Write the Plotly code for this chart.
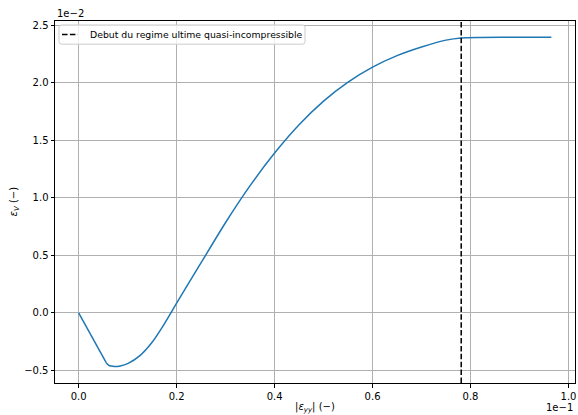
import plotly.graph_objects as go

# Data (actual values; axes display them as x1e-1 and x1e-2)
eps_yy = [0.0, 0.00565, 0.0061, 0.0066, 0.00735, 0.0085, 0.0100, 0.0125, 0.0150, 0.0175,
          0.0200, 0.0250, 0.0300, 0.0350, 0.0400, 0.0450, 0.0500, 0.0550, 0.0600, 0.0650,
          0.0700, 0.0750, 0.0781, 0.0820, 0.0900, 0.0965]
eps_v = [0.0, -0.00435, -0.00453, -0.00462, -0.00466, -0.00461, -0.00441, -0.00371, -0.00255,
         -0.00095, 0.00084, 0.00436, 0.00785, 0.01105, 0.01388, 0.01634, 0.01839, 0.02004,
         0.02134, 0.02234, 0.02309, 0.02369, 0.02388, 0.02392, 0.02393, 0.02393]
kink_index = 1  # end of the initial straight segment
x_regime = 0.0781
legend_label = "Debut du regime ultime quasi-incompressible"

x_tickvals = [0.0, 0.02, 0.04, 0.06, 0.08, 0.10]
x_ticktext = ["0.0", "0.2", "0.4", "0.6", "0.8", "1.0"]
y_tickvals = [-0.005, 0.0, 0.005, 0.010, 0.015, 0.020, 0.025]
y_ticktext = ["\u22120.5", "0.0", "0.5", "1.0", "1.5", "2.0", "2.5"]

x_range = [-0.00483, 0.10133]
y_range = [-0.00609, 0.02535]

C0 = "#1f77b4"
fig = go.Figure()
fig.add_trace(go.Scatter(x=eps_yy[:kink_index + 1], y=eps_v[:kink_index + 1], mode="lines",
                         line=dict(color=C0, width=1.5), showlegend=False))
fig.add_trace(go.Scatter(x=eps_yy[kink_index:], y=eps_v[kink_index:], mode="lines",
                         line=dict(color=C0, width=1.5, shape="spline", smoothing=0.7),
                         showlegend=False))
fig.add_trace(go.Scatter(x=[x_regime, x_regime], y=y_range, mode="lines",
                         line=dict(color="black", width=1.5, dash="5.5px,2.4px"),
                         name=legend_label, showlegend=False))

font = dict(family="DejaVu Sans", size=10, color="black")
axis_common = dict(showgrid=True, gridcolor="#b0b0b0", gridwidth=0.8, zeroline=False,
                   showline=True, linecolor="black", linewidth=1, mirror=True,
                   ticks="outside", ticklen=3.5, tickwidth=0.8, tickcolor="black",
                   tickfont=font)

fig.update_layout(
    width=578, height=415,
    margin=dict(l=55, r=3, t=21, b=32),
    paper_bgcolor="white", plot_bgcolor="white",
    font=font,
    xaxis=dict(range=x_range, tickvals=x_tickvals, ticktext=x_ticktext, **axis_common),
    yaxis=dict(range=y_range, tickvals=y_tickvals, ticktext=y_ticktext, **axis_common),
    showlegend=False,
)

# Legend box drawn in matplotlib style (rounded corners)
lx0, lx1, ly0, ly1, r = 0.0077, 0.4808, 0.936, 0.989, 0.005
ry = r * 520 / 362
legend_path = (f"M {lx0 + r},{ly0} L {lx1 - r},{ly0} Q {lx1},{ly0} {lx1},{ly0 + ry} "
               f"L {lx1},{ly1 - ry} Q {lx1},{ly1} {lx1 - r},{ly1} L {lx0 + r},{ly1} "
               f"Q {lx0},{ly1} {lx0},{ly1 - ry} L {lx0},{ly0 + ry} Q {lx0},{ly0} {lx0 + r},{ly0} Z")
fig.add_shape(type="path", xref="paper", yref="paper", path=legend_path,
              line=dict(color="#cccccc", width=1), fillcolor="rgba(255,255,255,0.8)",
              layer="above")
fig.add_shape(type="line", xref="paper", yref="paper", x0=0.0135, x1=0.0442, y0=0.9627,
              y1=0.9627, line=dict(color="black", width=1.5, dash="5.5px,2.4px"), layer="above")
fig.add_annotation(text=legend_label, xref="paper", yref="paper", x=0.0635, y=0.9627,
                   xanchor="left", yanchor="middle", showarrow=False,
                   font=dict(family="DejaVu Sans", size=9.3, color="black"))

fig.add_annotation(text="1e\u22122", xref="paper", yref="paper", x=0, y=1, xanchor="left",
                   yanchor="bottom", showarrow=False, font=font)
fig.add_annotation(text="1e\u22121", xref="paper", yref="paper", x=1, y=0, xanchor="right",
                   yanchor="top", yshift=-17, showarrow=False, font=font)
fig.add_annotation(text="|<i>\u03b5<sub>yy</sub></i>| (\u2212)", xref="paper", yref="paper",
                   x=0.5, y=0, xanchor="center", yanchor="top", yshift=-16, showarrow=False,
                   font=font)
fig.add_annotation(text="<i>\u03b5<sub>V</sub></i> (\u2212)", xref="paper", yref="paper",
                   x=0, y=0.5, xanchor="right", yanchor="middle", xshift=-33, textangle=-90,
                   showarrow=False, font=font)

fig.write_html("out.html", config={"displayModeBar": False},
               post_script="document.body.style.margin='0';")
